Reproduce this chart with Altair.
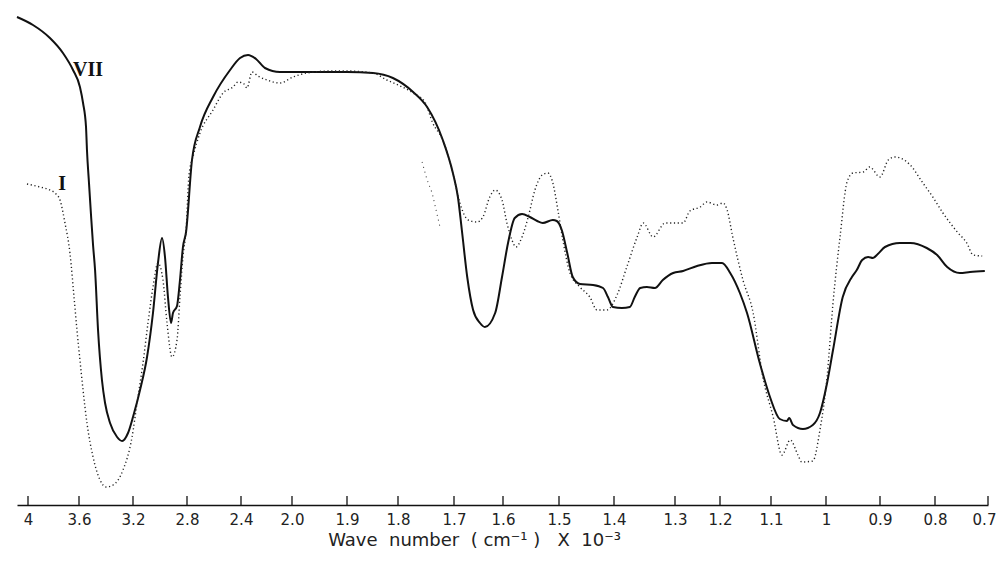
import altair as alt
import pandas as pd

# ---- axis ticks (wave number x 10^-3) ----
tick_values = [4.0, 3.6, 3.2, 2.8, 2.4, 2.0, 1.9, 1.8, 1.7, 1.6, 1.5, 1.4,
               1.3, 1.2, 1.1, 1.0, 0.9, 0.8, 0.7]
tick_labels = ["4", "3.6", "3.2", "2.8", "2.4", "2.0", "1.9", "1.8", "1.7", "1.6",
               "1.5", "1.4", "1.3", "1.2", "1.1", "1", "0.9", "0.8", "0.7"]

# ---- spectrum VII (solid) ----
vii_wn = [4.086, 3.961, 3.828, 3.726, 3.647, 3.593, 3.570, 3.548, 3.541, 3.526,
          3.511, 3.496, 3.481, 3.459, 3.430, 3.407, 3.370, 3.318, 3.281, 3.237,
          3.200, 3.148, 3.096, 3.052, 3.015, 2.985, 2.963, 2.941, 2.918, 2.904,
          2.874, 2.852, 2.830, 2.807, 2.763, 2.704, 2.607, 2.481, 2.407, 2.345,
          2.282, 2.212, 2.094, 1.985, 1.931, 1.900, 1.849, 1.810, 1.773, 1.748,
          1.720, 1.702, 1.692, 1.684, 1.673, 1.661, 1.647, 1.637, 1.616, 1.602,
          1.591, 1.579, 1.566, 1.552, 1.539, 1.529, 1.511, 1.504, 1.495, 1.485,
          1.475, 1.462, 1.438, 1.420, 1.411, 1.402, 1.387, 1.374, 1.366, 1.357,
          1.346, 1.333, 1.320, 1.303, 1.282, 1.251, 1.218, 1.196, 1.180, 1.161,
          1.147, 1.122, 1.102, 1.084, 1.071, 1.067, 1.060, 1.042, 1.024, 1.011,
          0.998, 0.987, 0.969, 0.952, 0.943, 0.933, 0.922, 0.913, 0.904, 0.891,
          0.864, 0.845, 0.815, 0.796, 0.777, 0.753, 0.734, 0.706]
vii_t = [97.6, 96.0, 93.4, 90.4, 87.0, 83.6, 80.4, 75.6, 71.0, 64.4,
         58.0, 52.0, 47.0, 35.0, 25.0, 20.4, 16.4, 13.6, 12.8, 14.4,
         17.6, 23.0, 29.6, 38.4, 48.4, 53.4, 49.6, 41.6, 36.4, 38.4,
         39.8, 45.0, 51.6, 54.6, 69.0, 75.6, 81.6, 87.0, 89.4, 90.0,
         89.2, 87.4, 86.6, 86.6, 86.6, 86.6, 86.4, 85.4, 82.6, 79.6,
         73.0, 66.4, 61.6, 55.0, 45.6, 39.0, 36.4, 35.6, 38.4, 45.6,
         52.4, 57.4, 58.2, 57.6, 56.8, 56.4, 57.0, 56.8, 55.0, 50.4,
         45.6, 44.2, 44.0, 43.4, 41.6, 39.6, 39.4, 39.6, 41.6, 43.4,
         43.6, 43.4, 45.0, 46.4, 46.8, 47.8, 48.4, 48.4, 46.4, 42.4,
         38.4, 28.4, 21.6, 17.2, 16.8, 17.4, 16.0, 15.2, 16.0, 18.4,
         24.4, 31.0, 41.6, 45.6, 47.0, 49.0, 49.6, 49.4, 50.2, 51.6,
         52.4, 52.4, 51.4, 50.0, 47.6, 46.4, 46.6, 46.8]

# ---- spectrum I (dotted) ----
i_wn = [4.008, 3.906, 3.828, 3.780, 3.749, 3.710, 3.671, 3.639, 3.616, 3.593,
        3.570, 3.541, 3.496, 3.444, 3.400, 3.348, 3.274, 3.207, 3.170, 3.126,
        3.089, 3.052, 3.015, 2.978, 2.948, 2.911, 2.874, 2.852, 2.830, 2.807,
        2.785, 2.756, 2.704, 2.607, 2.533, 2.459, 2.422, 2.376, 2.353, 2.314,
        2.267, 2.196, 2.094, 1.998, 1.973, 1.931, 1.900, 1.849, 1.822, 1.796,
        1.773, 1.752, 1.738, 1.720, 1.702, 1.688, 1.671, 1.653, 1.641, 1.627,
        1.616, 1.602, 1.593, 1.584, 1.577, 1.566, 1.555, 1.543, 1.530, 1.520,
        1.511, 1.502, 1.493, 1.480, 1.462, 1.444, 1.431, 1.413, 1.395, 1.379,
        1.362, 1.352, 1.336, 1.316, 1.303, 1.282, 1.267, 1.244, 1.229, 1.207,
        1.194, 1.186, 1.175, 1.155, 1.135, 1.116, 1.096, 1.080, 1.065, 1.051,
        1.044, 1.024, 1.011, 0.998, 0.987, 0.974, 0.961, 0.950, 0.931, 0.919,
        0.900, 0.885, 0.873, 0.845, 0.822, 0.804, 0.785, 0.758, 0.740, 0.728,
        0.711]
i_t = [64.2, 63.6, 63.0, 62.2, 61.0, 56.4, 50.4, 41.6, 35.0, 29.0,
       23.0, 16.4, 9.6, 5.0, 3.6, 4.0, 7.0, 13.6, 20.4, 28.4,
       36.4, 43.6, 48.4, 45.0, 36.4, 29.6, 33.0, 41.6, 49.6, 55.0,
       66.0, 69.6, 74.4, 79.0, 82.4, 83.6, 84.6, 84.2, 83.4, 86.6,
       85.8, 85.0, 84.4, 85.6, 86.4, 86.8, 86.8, 86.4, 85.0, 83.8,
       82.4, 80.6, 76.4, 73.0, 66.4, 60.4, 57.0, 56.6, 57.6, 61.6,
       63.0, 61.0, 56.4, 53.0, 51.6, 53.6, 57.6, 63.0, 66.0, 66.4,
       64.4, 59.0, 53.0, 46.4, 43.6, 41.6, 39.0, 39.0, 42.0, 47.6,
       53.6, 56.4, 53.6, 56.4, 56.4, 56.4, 58.8, 59.6, 60.6, 60.0,
       60.4, 59.0, 53.6, 45.0, 38.4, 25.6, 17.6, 10.0, 13.0, 10.0,
       8.6, 8.8, 15.0, 25.6, 40.4, 53.6, 64.6, 66.4, 66.6, 67.6,
       65.6, 69.0, 69.6, 68.0, 64.4, 61.6, 58.4, 54.6, 52.4, 50.0,
       49.8]

# ---- faint separate dotted trace near 1.75 ----
trace_wn = [1.757, 1.748, 1.739, 1.725]
trace_t = [68.6, 65.0, 62.4, 55.6]

# ---- curve labels ----
label_text = ["VII", "I"]
label_wn = [3.533, 3.733]
label_t = [87.0, 64.2]

# ---------------- layout ----------------
W, H = 971, 497
tick_px = [11, 62, 116, 170, 224, 275, 330, 381, 437, 486, 542, 597,
           658, 703, 754, 809, 863, 918, 971]

xscale = alt.Scale(domain=[4.086] + tick_values, range=[0] + tick_px)
yscale = alt.Scale(domain=[0, 99.4], nice=False, zero=False)

label_expr = ""
for v, lab in zip(tick_values, tick_labels):
    label_expr += f"datum.value == {v} ? '{lab}' : "
label_expr += "''"

NB = "\u00a0"
axis_title = f"Wave{NB*2}number{NB*2}({NB}cm⁻¹{NB}){NB*3}X{NB*2}10⁻³"

xaxis = alt.Axis(
    values=tick_values,
    labelExpr=label_expr,
    ticks=False,
    domainColor="#111",
    domainWidth=1.3,
    grid=False,
    labelFont="DejaVu Sans",
    labelFontSize=15,
    labelColor="#222",
    labelPadding=7,
    labelFlush=False,
    labelOverlap=False,
    labelOffset={"condition": {"test": "datum.value == 0.7", "value": -4}, "value": 0},
    title=axis_title,
    titleFont="DejaVu Sans",
    titleFontSize=18,
    titleFontWeight="normal",
    titleColor="#222",
    titlePadding=4,
    titleX=457,
    titleAlign="center",
)

df_vii = pd.DataFrame({"wn": vii_wn, "t": vii_t})
df_i = pd.DataFrame({"wn": i_wn, "t": i_t})
df_tr = pd.DataFrame({"wn": trace_wn, "t": trace_t})
df_tk = pd.DataFrame({"wn": tick_values})
df_lab = pd.DataFrame({"wn": label_wn, "t": label_t, "txt": label_text})

vii = alt.Chart(df_vii).mark_line(color="#111", strokeWidth=2, interpolate="monotone").encode(
    x=alt.X("wn:Q", scale=xscale, axis=xaxis, sort=None),
    y=alt.Y("t:Q", scale=yscale, axis=None),
)

one = alt.Chart(df_i).mark_line(color="#222", strokeWidth=1.4, strokeDash=[1.2, 2.6],
                                interpolate="monotone").encode(
    x=alt.X("wn:Q", scale=xscale),
    y=alt.Y("t:Q", scale=yscale),
)

trace = alt.Chart(df_tr).mark_line(color="#444", strokeWidth=1.1, strokeDash=[1, 4]).encode(
    x=alt.X("wn:Q", scale=xscale),
    y=alt.Y("t:Q", scale=yscale),
)

ticks = alt.Chart(df_tk).mark_rule(color="#111", strokeWidth=1.3).encode(
    x=alt.X("wn:Q", scale=xscale),
    y=alt.value(H - 9),
    y2=alt.value(H),
)

labels = alt.Chart(df_lab).mark_text(font="Liberation Serif", fontSize=20, fontWeight="bold",
                                     color="#111", align="center", baseline="middle").encode(
    x=alt.X("wn:Q", scale=xscale),
    y=alt.Y("t:Q", scale=yscale),
    text="txt:N",
)

chart = alt.layer(vii, one, trace, ticks, labels).properties(
    width=W,
    height=H,
    autosize=alt.AutoSizeParams(type="none"),
    padding={"left": 9, "top": 0, "right": 8, "bottom": 55},
    background="white",
).configure_view(stroke=None)

chart.save("out.html", embed_options={"renderer": "svg", "actions": False})
